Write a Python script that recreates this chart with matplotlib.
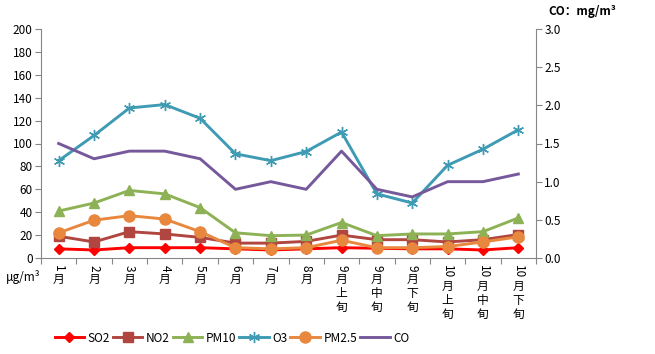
import numpy as np
import matplotlib as mpl
mpl.use('Agg')
import matplotlib.pyplot as plt

plt.rcParams['font.family'] = ['Noto Sans CJK SC', 'DejaVu Sans']

# data
labels = ["1月", "2月", "3月", "4月", "5月", "6月", "7月", "8月",
          "9月上旬", "9月中旬", "9月下旬", "10月上旬", "10月中旬", "10月下旬"]
so2 = [8, 7, 9, 9, 9, 8, 7, 8, 9, 8.5, 8, 8, 7, 9]
no2 = [19, 14, 23, 21, 18, 13, 13, 14.5, 20, 16, 16, 14, 16, 20.5]
pm10 = [41, 48, 59, 56, 44, 22, 19.5, 20, 31, 19.5, 21, 21, 23, 35]
o3 = [85, 107, 131, 134, 122, 91, 85, 93, 110, 56, 48, 81, 95, 112]
pm25 = [22, 33, 37, 34, 23, 9, 8, 9, 15.5, 9, 9, 10, 14, 18.5]
co = [1.5, 1.3, 1.4, 1.4, 1.3, 0.9, 1.0, 0.9, 1.4, 0.9, 0.8, 1.0, 1.0, 1.1]

W, H = 655, 354
fig = plt.figure(figsize=(W / 100, H / 100), dpi=100)
ax = fig.add_axes([41 / W, 1 - 258 / H, (536 - 41) / W, (258 - 29) / H])
ax2 = ax.twinx()

x = np.arange(len(labels)) + 0.5
lw = 2.1
h1, = ax.plot(x, so2, color='#FF0000', lw=lw, marker='D', ms=5.5, label='SO2', zorder=3)
h2, = ax.plot(x, no2, color='#B0463F', lw=lw, marker='s', ms=7, label='NO2', zorder=3)
h3, = ax.plot(x, pm10, color='#8DB255', lw=lw, marker='^', ms=7.5, label='PM10', zorder=3)
h4, = ax.plot(x, o3, color='#3E9BB3', lw=lw, marker=(6, 2, 0), ms=8, mew=1.0,
              label='O3', zorder=3)
h5, = ax.plot(x, pm25, color='#E8883E', lw=lw, marker='o', ms=8, label='PM2.5', zorder=3)
h6, = ax2.plot(x, co, color='#76599B', lw=lw, label='CO')

gray = '#868686'
ax.set_xlim(0, len(labels))
ax.set_ylim(0, 200)
ax.set_yticks(np.arange(0, 201, 20))
ax2.set_ylim(0, 3.0)
ax2.set_yticks(np.arange(0, 3.01, 0.5))
ax2.set_yticklabels(['%.1f' % v for v in np.arange(0, 3.01, 0.5)])
ax.set_xticks(np.arange(0, len(labels) + 1))
ax.set_xticklabels([])

for a in (ax, ax2):
    a.spines['top'].set_visible(False)
    for s in ('left', 'right', 'bottom'):
        a.spines[s].set_color(gray)
    a.tick_params(colors=gray, labelcolor='black', labelsize=8.5, length=4)
ax.spines['right'].set_visible(False)
ax2.spines['left'].set_visible(False)
ax2.spines['bottom'].set_visible(False)
ax.tick_params(axis='y', pad=2)
ax2.tick_params(axis='y', pad=2)

# x labels: digits turned, Chinese characters stacked upright
fs = 8.5
for xi, lab in zip(x, labels):
    num = ''.join(c for c in lab if c.isdigit())
    rest = lab[len(num):]
    ax.annotate(num, xy=(xi, 0), xycoords=('data', 'axes fraction'),
                xytext=(0, -5), textcoords='offset points', rotation=-90,
                ha='center', va='top', fontsize=fs)
    off = -5 - len(num) * 0.58 * fs - 1
    ax.annotate('\n'.join(rest), xy=(xi, 0), xycoords=('data', 'axes fraction'),
                xytext=(0, off), textcoords='offset points',
                ha='center', va='top', fontsize=fs, linespacing=1.08)

fig.text(6 / W, 1 - 277 / H, 'μg/m³', fontsize=fs, va='center', ha='left')
fig.text(548 / W, 1 - 12 / H, 'CO：mg/m³', fontsize=fs, va='center', ha='left',
         fontweight='bold')

fig.legend(handles=[h1, h2, h3, h4, h5, h6], loc='center', ncol=6,
           bbox_to_anchor=(232 / W, 1 - 338 / H), frameon=False, fontsize=fs,
           handlelength=2.5, columnspacing=0.25, handletextpad=0.3)

fig.savefig('out.png', dpi=100)
